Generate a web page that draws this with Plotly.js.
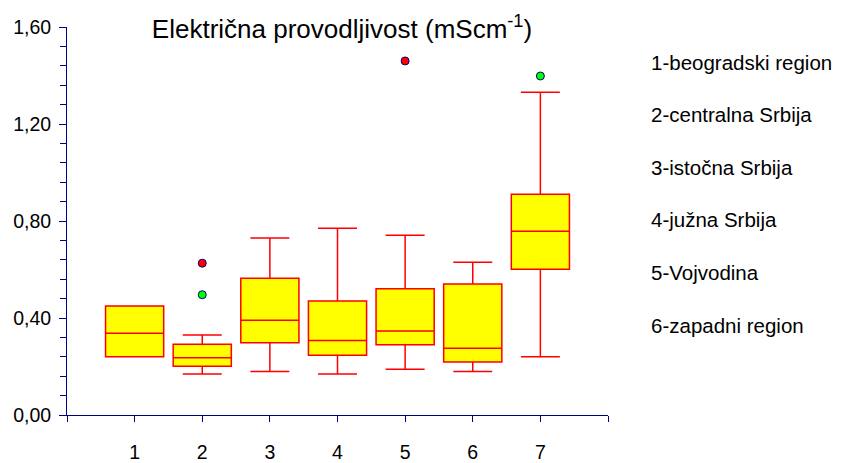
<!DOCTYPE html>
<html>
<head>
<meta charset="utf-8">
<script src="https://cdn.plot.ly/plotly-3.0.1.min.js"></script>
<style>html,body{margin:0;padding:0;background:#fff;}#chart{width:842px;height:463px;}</style>
</head>
<body>
<div id="chart"></div>
<script>
// Data
const groups      = [1, 2, 3, 4, 5, 6, 7];
const lowerFence  = [0.240, 0.169, 0.179, 0.169, 0.189, 0.179, 0.240];
const q1Values    = [0.240, 0.201, 0.298, 0.246, 0.290, 0.219, 0.601];
const medians     = [0.337, 0.236, 0.391, 0.307, 0.346, 0.275, 0.758];
const q3Values    = [0.450, 0.292, 0.564, 0.470, 0.521, 0.540, 0.910];
const upperFence  = [0.450, 0.330, 0.730, 0.770, 0.741, 0.630, 1.331];
const redOutX     = [2, 5];
const redOutY     = [0.626, 1.460];
const greenOutX   = [2, 7];
const greenOutY   = [0.496, 1.398];
const xTickVals   = [1, 2, 3, 4, 5, 6, 7];
const xTickText   = ['1', '2', '3', '4', '5', '6', '7'];
const yTickVals   = [0, 0.4, 0.8, 1.2, 1.6];
const regions     = ['1-beogradski region', '2-centralna Srbija', '3-istočna Srbija',
                     '4-južna Srbija', '5-Vojvodina', '6-zapadni region'];
const titleText   = 'Električna provodljivost (mScm<sup>-1</sup>)';

const font = 'Arial, "Liberation Sans", sans-serif';

const traces = [
  {
    type: 'box',
    x: groups,
    q1: q1Values,
    median: medians,
    q3: q3Values,
    lowerfence: lowerFence,
    upperfence: upperFence,
    boxpoints: false,
    width: 0.86,
    whiskerwidth: 0.67,
    fillcolor: '#ffff00',
    line: {color: '#ff0000', width: 1.5},
    showlegend: false,
    hoverinfo: 'skip'
  },
  {
    type: 'scatter', mode: 'markers',
    x: redOutX, y: redOutY,
    marker: {color: '#ff0000', size: 8, line: {color: '#000080', width: 1}},
    showlegend: false, hoverinfo: 'skip'
  },
  {
    type: 'scatter', mode: 'markers',
    x: greenOutX, y: greenOutY,
    marker: {color: '#00ff00', size: 8, line: {color: '#000080', width: 1}},
    showlegend: false, hoverinfo: 'skip'
  }
];

const annotations = regions.map((r, i) => ({
  text: r,
  xref: 'paper', yref: 'paper',
  x: (649 - 67) / 541,
  y: (415 - (62 + 52.6 * i)) / 388,
  xanchor: 'left', yanchor: 'middle',
  showarrow: false,
  font: {family: font, size: 20.5, color: '#000'}
}));

const layout = {
  width: 842, height: 463,
  margin: {l: 67, r: 234, t: 27, b: 48, pad: 0},
  paper_bgcolor: '#fff', plot_bgcolor: '#fff',
  separators: ',.',
  font: {family: font, size: 19, color: '#000'},
  title: {
    text: titleText,
    font: {family: font, size: 26, color: '#000'},
    x: (342 - 67) / 541, xanchor: 'center', xref: 'paper',
    y: 1 - 29 / 463, yanchor: 'middle', yref: 'container'
  },
  xaxis: {
    range: [0, 8],
    tickmode: 'array', tickvals: xTickVals, ticktext: xTickText,
    ticks: 'outside', ticklen: 6, tickcolor: '#000080', tickwidth: 1,
    minor: {tickmode: 'linear', tick0: 0, dtick: 1, ticks: 'outside', ticklen: 6, tickcolor: '#000080', tickwidth: 1, showgrid: false},
    showline: true, linecolor: '#000080', linewidth: 1,
    showgrid: false, zeroline: false,
    ticklabelstandoff: 14,
    tickfont: {family: font, size: 19.5, color: '#000'}
  },
  yaxis: {
    range: [0, 1.6],
    tickmode: 'array', tickvals: yTickVals, tickformat: '.2f',
    ticks: 'outside', ticklen: 7, tickcolor: '#000080', tickwidth: 1,
    minor: {dtick: 0.08, ticks: 'outside', ticklen: 6, tickcolor: '#000080', tickwidth: 1, showgrid: false},
    showline: true, linecolor: '#000080', linewidth: 1,
    showgrid: false, zeroline: false,
    ticklabelstandoff: 4,
    tickfont: {family: font, size: 19.5, color: '#000'}
  },
  annotations: annotations
};

Plotly.newPlot('chart', traces, layout, {staticPlot: true, displayModeBar: false});
</script>
</body>
</html>
